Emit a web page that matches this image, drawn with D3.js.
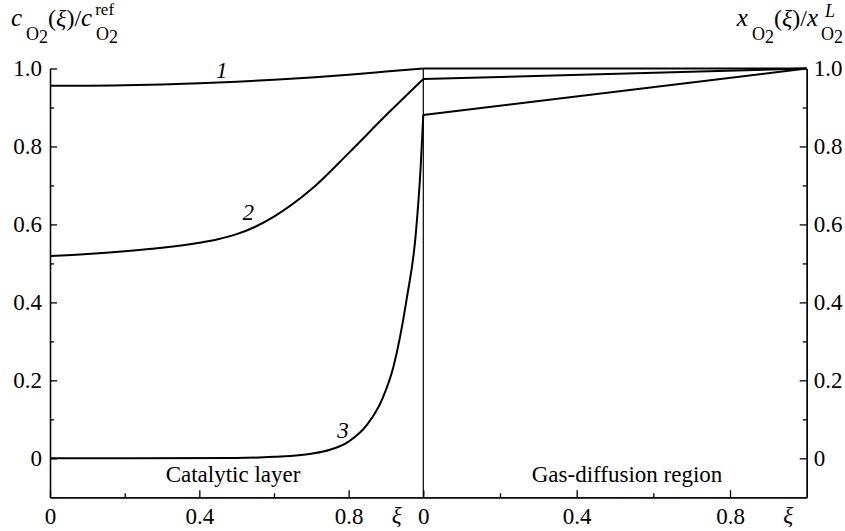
<!DOCTYPE html>
<head>
<meta charset="utf-8">
</head>
<body>
<script src="https://d3js.org/d3.v7.min.js"></script>
<script>
// catalytic layer (left panel): c_O2(xi)/c_ref
var xiLeft1 = [0, 0.1, 0.2, 0.3, 0.4, 0.5, 0.6, 0.7, 0.8, 0.9, 1.0];
var left1   = [0.956, 0.956, 0.957, 0.959, 0.962, 0.966, 0.971, 0.977, 0.984, 0.992, 1.0];
var xiLeft2 = [0, 0.1, 0.2, 0.3, 0.4, 0.45, 0.5, 0.55, 0.6, 0.7, 0.8, 0.9, 1.0];
var left2   = [0.519, 0.524, 0.531, 0.540, 0.553, 0.562, 0.575, 0.594, 0.620, 0.690, 0.783, 0.880, 0.973];
var xiLeft3 = [0, 0.5, 0.6, 0.7, 0.75, 0.8, 0.85, 0.89, 0.92, 0.955, 0.98, 0.993, 1.0];
var left3   = [0, 0.001, 0.004, 0.012, 0.022, 0.043, 0.087, 0.152, 0.235, 0.406, 0.577, 0.748, 0.881];

// gas-diffusion region (right panel): x_O2(xi)/x_L
var xiRight = [0, 1];
var right1  = [1.0, 1.0];
var right2  = [0.973, 1.0];
var right3  = [0.881, 1.0];

var yMajor = [0, 0.2, 0.4, 0.6, 0.8, 1.0];
var yMinor = [0.1, 0.3, 0.5, 0.7, 0.9];
var xMajor = [0, 0.4, 0.8];
var xMinor = [0.2, 0.6];
var curveLabels = ['1', '2', '3'];
var regionLabels = ['Catalytic layer', 'Gas-diffusion region'];

var FONT = "'Liberation Serif'";

// DIMENSIONS
width = 845; height = 531;
x0 = 50; xMid = 423.3; x1 = 806.7;

svg = d3.select('body').append('svg')
  .attr('width', width)
  .attr('height', height)
  .style('position', 'absolute')
  .style('left', '0px')
  .style('top', '0px')
  .style('background', 'white');

// SCALES
xL = d3.scaleLinear([0, 1], [x0, xMid]);
xR = d3.scaleLinear([0, 1], [xMid, x1]);
y = d3.scaleLinear([-0.1, 1], [497.3, 68.5]);

fmt = d => d === 0 ? '0' : d3.format('.1f')(d);

// AXES
function addAxis(axis, tf) {
  var g = svg.append('g').attr('transform', tf).call(axis);
  g.attr('font-size', null).attr('font-family', null);
  g.selectAll('text')
    .style('font-family', FONT)
    .style('font-size', '23px')
    .attr('fill', '#000');
  g.selectAll('line, path').attr('stroke', '#000').attr('stroke-width', 1.3);
  return g;
}

addAxis(d3.axisLeft(y).tickValues(yMajor).tickFormat(fmt).tickSize(-7).tickSizeOuter(0).tickPadding(8), `translate(${x0},0)`);
addAxis(d3.axisLeft(y).tickValues(yMinor).tickFormat('').tickSize(-4).tickSizeOuter(0), `translate(${x0},0)`);
addAxis(d3.axisRight(y).tickValues(yMajor).tickFormat(fmt).tickSize(-7).tickSizeOuter(0).tickPadding(7), `translate(${x1},0)`);
addAxis(d3.axisRight(y).tickValues(yMinor).tickFormat('').tickSize(-4).tickSizeOuter(0), `translate(${x1},0)`);

var yb = y(-0.1);
addAxis(d3.axisBottom(xL).tickValues(xMajor).tickFormat(fmt).tickSize(-7).tickSizeOuter(0).tickPadding(10), `translate(0,${yb})`);
addAxis(d3.axisBottom(xL).tickValues(xMinor).tickFormat('').tickSize(-4).tickSizeOuter(0), `translate(0,${yb})`);
addAxis(d3.axisBottom(xR).tickValues(xMajor).tickFormat(fmt).tickSize(-7).tickSizeOuter(0).tickPadding(10), `translate(0,${yb})`);
addAxis(d3.axisBottom(xR).tickValues(xMinor).tickFormat('').tickSize(-4).tickSizeOuter(0), `translate(0,${yb})`);

// divider between the two regions
svg.append('line')
  .attr('x1', xMid).attr('x2', xMid)
  .attr('y1', y(-0.1)).attr('y2', y(1))
  .attr('stroke', '#000').attr('stroke-width', 1.2);

// CURVES
function drawCurve(xs, ys, xScale) {
  var line = d3.line()
    .x((d, i) => xScale(xs[i]))
    .y(d => y(d))
    .curve(d3.curveMonotoneX);
  svg.append('path').datum(ys)
    .attr('fill', 'none').attr('stroke', '#000').attr('stroke-width', 2)
    .attr('d', line);
}
drawCurve(xiLeft1, left1, xL);
drawCurve(xiLeft2, left2, xL);
drawCurve(xiLeft3, left3, xL);
drawCurve(xiRight, right1, xR);
drawCurve(xiRight, right2, xR);
drawCurve(xiRight, right3, xR);

function label(x, yy, t, italic) {
  return svg.append('text')
    .attr('x', x).attr('y', yy)
    .style('font-family', FONT)
    .style('font-size', '23px')
    .style('font-style', italic ? 'italic' : 'normal')
    .attr('text-anchor', 'middle')
    .text(t);
}

// curve numbers
var numPos = [[221.7, 77.5], [248.3, 220], [343, 438]];
curveLabels.forEach((t, i) => label(numPos[i][0], numPos[i][1], t, true));

// region labels
label(233, 482, regionLabels[0]);
label(627, 482, regionLabels[1]);

// xi labels under x axis
label(396.7, 523, 'ξ', true);
label(788.3, 523, 'ξ', true);

// AXIS TITLES, as flowing tspans (dx/dy only, so the text stays one chunk)
function mathText(x, yy, anchor, parts) {
  var t = svg.append('text')
    .attr('x', x).attr('y', yy)
    .style('font-family', FONT)
    .style('font-size', '24px')
    .attr('text-anchor', anchor);
  parts.forEach(p => {
    t.append('tspan')
      .attr('dx', p.dx || 0)
      .attr('dy', p.dy || 0)
      .style('font-family', FONT)
      .style('font-size', p.size + 'px')
      .style('font-style', p.it ? 'italic' : 'normal')
      .text(p.t);
  });
  return t;
}

mathText(11, 26, 'start', [
  {t: 'c', size: 25, it: true},
  {t: 'O', size: 18, dy: 14, dx: 4},
  {t: '2', size: 18, dy: 3},
  {t: '(', size: 24, dy: -17},
  {t: 'ξ', size: 24, it: true},
  {t: ')/', size: 24},
  {t: 'c', size: 25, it: true},
  {t: 'ref', size: 17, dy: -11, dx: 3},
  {t: 'O', size: 18, dy: 25, dx: -18},
  {t: '2', size: 18, dy: 3}
]);

mathText(843, 26, 'end', [
  {t: 'x', size: 25, it: true},
  {t: 'O', size: 18, dy: 14, dx: 4},
  {t: '2', size: 18, dy: 3},
  {t: '(', size: 24, dy: -17},
  {t: 'ξ', size: 24, it: true},
  {t: ')/', size: 24},
  {t: 'x', size: 25, it: true},
  {t: 'L', size: 18, dy: -9, dx: 7, it: true},
  {t: 'O', size: 18, dy: 23, dx: -14},
  {t: '2', size: 18, dy: 3}
]);
</script>
</body>
